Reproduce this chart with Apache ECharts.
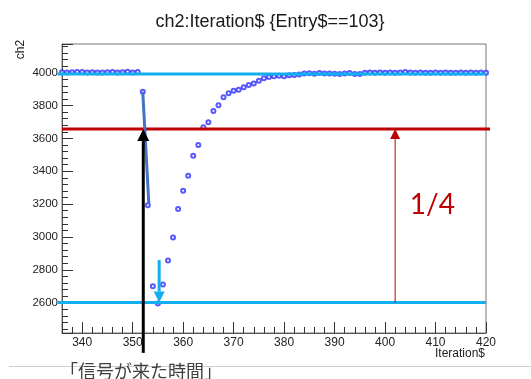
<!DOCTYPE html>
<html><head><meta charset="utf-8">
<script src="https://cdn.jsdelivr.net/npm/echarts@6/dist/echarts.min.js"></script>
<style>html,body{margin:0;padding:0;background:#fff}#c{width:531px;height:379px}</style>
</head><body><div id="c"></div>
<script>
// ---- data ----
const iterations = [336,337,338,339,340,341,342,343,344,345,346,347,348,349,350,351,352,353,354,355,356,357,358,359,360,361,362,363,364,365,366,367,368,369,370,371,372,373,374,375,376,377,378,379,380,381,382,383,384,385,386,387,388,389,390,391,392,393,394,395,396,397,398,399,400,401,402,403,404,405,406,407,408,409,410,411,412,413,414,415,416,417,418,419,420];
const ch2Values = [4003,4002,4003,4005,4004,4002,4003,4002,4002,4003,4005,4002,4003,4006,4002,4004,3884,3193,2700,2594,2710,2856,2996,3170,3282,3373,3495,3560,3668,3698,3767,3802,3850,3875,3890,3897,3911,3925,3935,3951,3966,3974,3978,3982,3979,3984,3986,3990,3996,3997,3994,3998,3996,3995,3994,3992,3995,3999,3993,3993,4000,4001,4000,4001,4000,4002,4000,4001,4005,4001,4000,4001,4000,4000,4001,4000,4001,4000,4000,4002,4000,4001,4000,4001,4000];
const xRange = [336, 420];
const yRange = [2415, 4175];
const xTickStep = 10;
const yTickStep = 200;
// annotation levels (data units)
const baselineLevel = 3993;
const minimumLevel = 2600;
const quarterLevel = 3657;
const signalIteration = 352.1;
const signalArrowBottom = 2294;
const dropSegment = [[352, 3884], [353.2, 3205]];
const minArrow = {x: 355.25, from: 2860, to: 2600};
const quarterArrow = {x: 402, from: 2600, to: 3657};
const quarterLabelPos = [404.9, 3195];
const titleText = 'ch2:Iteration$ {Entry$==103}';
const xTitle = 'Iteration$';
const yTitle = 'ch2';
const quarterText = '1/4';
const signalText = '「信号が来た時間」';

const chart = echarts.init(document.getElementById('c'), null, {renderer: 'canvas'});
const axisFont = 'Liberation Sans';
const option = {
  animation: false,
  grid: {left: 62, top: 44, right: 45, bottom: 46, show: true, borderColor: '#777', borderWidth: 1},
  xAxis: {
    type: 'value', min: xRange[0], max: xRange[1], minInterval: xTickStep, maxInterval: xTickStep, splitNumber: 8,
    axisLine: {show: true, lineStyle: {color: '#555', width: 1}},
    axisTick: {show: true, inside: true, length: 11, lineStyle: {color: '#333', width: 1}},
    minorTick: {show: true, splitNumber: 5, length: 6, lineStyle: {color: '#333', width: 1}},
    splitLine: {show: false},
    axisLabel: {formatter: v => (v % xTickStep === 0 ? String(v) : ''), fontSize: 12, color: '#222', margin: 4, fontFamily: axisFont, showMinLabel: true, showMaxLabel: true}
  },
  yAxis: {
    type: 'value', min: yRange[0], max: yRange[1], minInterval: yTickStep, maxInterval: yTickStep, splitNumber: 9,
    axisLine: {show: true, lineStyle: {color: '#555', width: 1}},
    axisTick: {show: true, inside: true, length: 11, lineStyle: {color: '#333', width: 1}},
    minorTick: {show: true, splitNumber: 5, length: 6, lineStyle: {color: '#333', width: 1}},
    splitLine: {show: false},
    axisLabel: {formatter: v => (v % yTickStep === 0 ? String(v) : ''), fontSize: 11.5, color: '#222', margin: 4, fontFamily: axisFont}
  },
  series: [{
    type: 'scatter', clip: false,
    data: iterations.map((x, i) => [x, ch2Values[i]]),
    symbol: 'emptyCircle', symbolSize: 4,
    itemStyle: {color: '#3030ff', borderWidth: 1},
    z: 2
  }]
};
chart.setOption(option);

function px(x, y) { return chart.convertToPixel({gridIndex: 0}, [x, y]); }
function hline(y, x0, x1, color, w, z) {
  const a = px(x0, y), b = px(x1, y);
  return {type: 'line', z: z, shape: {x1: a[0], y1: a[1], x2: b[0], y2: b[1]}, style: {stroke: color, lineWidth: w}};
}
function vArrow(x, yFrom, yTo, color, w, headLen, headHalf, z) {
  const a = px(x, yFrom), b = px(x, yTo);
  const dir = b[1] < a[1] ? 1 : -1; // 1 means pointing up
  const baseY = b[1] + dir * headLen;
  return [
    {type: 'line', z: z, shape: {x1: a[0], y1: a[1], x2: b[0], y2: baseY}, style: {stroke: color, lineWidth: w}},
    {type: 'polygon', z: z, shape: {points: [[b[0], b[1]], [b[0] - headHalf, baseY], [b[0] + headHalf, baseY]]}, style: {fill: color}}
  ];
}
const ds0 = px(dropSegment[0][0], dropSegment[0][1]);
const ds1 = px(dropSegment[1][0], dropSegment[1][1]);
const ql = px(quarterLabelPos[0], quarterLabelPos[1]);
const graphics = [
  hline(baselineLevel, 335.1, 420, '#12aff0', 3, 10),
  hline(minimumLevel, 335.1, 420, '#12aff0', 3, 10),
  hline(quarterLevel, 336, 420.8, '#c00000', 3, 11),
  {type: 'line', z: 12, shape: {x1: ds0[0], y1: ds0[1], x2: ds1[0], y2: ds1[1]}, style: {stroke: '#4472c4', lineWidth: 3}},
  ...vArrow(signalIteration, signalArrowBottom, quarterLevel, '#000', 3, 12, 6, 13),
  ...vArrow(minArrow.x, minArrow.from, minArrow.to, '#12aff0', 3, 11, 5.5, 13),
  ...vArrow(quarterArrow.x, quarterArrow.from, quarterArrow.to, '#c00000', 1, 10, 5, 13),
  {type: 'text', z: 20, x: ql[0], y: ql[1], style: {text: quarterText, fontSize: 28, fontFamily: 'Lato', fill: '#c00000', align: 'left', verticalAlign: 'middle'}},
  {type: 'text', z: 20, x: 270, y: 22, style: {text: titleText, fontSize: 18, fontFamily: axisFont, fill: '#1a1a1a', align: 'center', verticalAlign: 'middle'}},
  {type: 'text', z: 20, x: 21, y: 49.5, rotation: Math.PI / 2, style: {text: yTitle, fontSize: 12, fontFamily: axisFont, fill: '#222', align: 'center', verticalAlign: 'middle'}},
  {type: 'text', z: 20, x: 485, y: 354, style: {text: xTitle, fontSize: 12, fontFamily: axisFont, fill: '#222', align: 'right', verticalAlign: 'middle'}},
  {type: 'line', z: 5, shape: {x1: 9, y1: 366.5, x2: 531, y2: 366.5}, style: {stroke: '#cfcfcf', lineWidth: 1}},
  {type: 'text', z: 20, x: 60, y: 371, style: {text: signalText, fontSize: 18, fontFamily: 'Noto Sans CJK JP', fill: '#404040', align: 'left', verticalAlign: 'middle'}}
];
chart.setOption({graphic: graphics});
</script>
</body></html>
